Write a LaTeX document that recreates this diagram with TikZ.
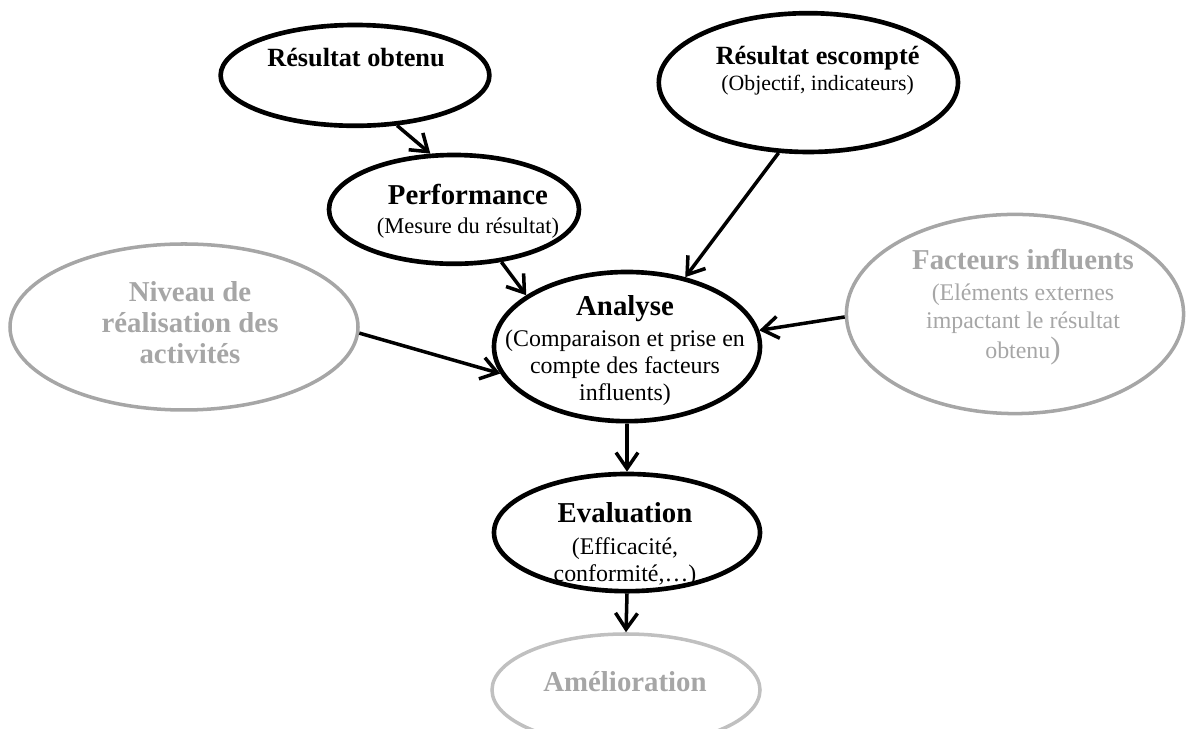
\documentclass[tikz,border=0pt]{standalone}
\usepackage{fontspec}
\setmainfont{Liberation Serif}
\usetikzlibrary{shapes.geometric,arrows.meta}
\definecolor{grayA}{HTML}{A6A6A6}
\definecolor{grayB}{HTML}{C0C0C0}
\newcommand{\hd}[1]{{\fontsize{20.5}{24}\selectfont\bfseries #1}}
\newcommand{\hdr}[1]{{\fontsize{18.7}{22}\selectfont\bfseries #1}}
\begin{document}
\begin{tikzpicture}[
		bubble/.style={draw, ellipse, line width=3.3pt, inner sep=0pt},
		pale/.style={draw=grayA, line width=2.5pt},
		txt/.style={align=center, inner sep=0pt, font=\fontsize{17}{19.5}\selectfont},
		small/.style={font=\fontsize{15.5}{18.5}\selectfont},
		link/.style={line width=2.5pt, -{Straight Barb[length=0.4cm,width=0.55cm]}}
	]
		\clip (0,0) rectangle (29.65,18.225);

		\node[bubble, minimum width=6.72cm, minimum height=2.52cm] (obtenu) at (8.875,16.34) {};
		\node[bubble, minimum width=7.48cm, minimum height=3.47cm] (escompte) at (20.21,16.16) {};
		\node[bubble, minimum width=6.25cm, minimum height=2.72cm] (perf) at (11.35,12.99) {};
		\node[bubble, pale, minimum width=8.7cm, minimum height=4.15cm] (niveau) at (4.6,10.05) {};
		\node[bubble, pale, minimum width=8.43cm, minimum height=4.98cm] (facteurs) at (25.375,10.375) {};
		\node[bubble, minimum width=6.65cm, minimum height=3.73cm] (analyse) at (15.675,9.56) {};
		\node[bubble, minimum width=6.65cm, minimum height=2.93cm] (evaluation) at (15.675,4.91) {};
		\node[bubble, draw=grayB, line width=2.5pt, minimum width=6.7cm, minimum height=2.8cm] (amelioration) at (15.65,0.975) {};

		\node[txt] (obtenuT) at (8.9,16.775) {\hdr{Résultat obtenu}};
		\node[txt, small] (escompteT) at (20.44,16.45) {\hdr{Résultat escompté}\\ (Objectif, indicateurs)};
		\node[txt, font=\fontsize{16}{18.5}\selectfont] (perfT) at (11.7,12.95) {\hd{Performance}\\[2pt] (Mesure du résultat)};
		\node[txt, text=grayA, font=\fontsize{20.5}{22}\selectfont\bfseries] (niveauT) at (4.75,10.16) {Niveau de\\ réalisation des\\ activités};
		\node[txt, text=grayA] (facteursT) at (25.575,10.55) {\hd{Facteurs influents}\\[3pt] (Eléments externes\\ impactant le résultat\\[2pt] obtenu{\fontsize{22}{24}\selectfont)}};
		\node[txt] (analyseT) at (15.625,9.45) {\hd{Analyse}\\[2pt] (Comparaison et prise en\\ compte des facteurs\\ influents)};
		\node[txt] (evaluationT) at (15.625,4.6) {\hd{Evaluation}\\[3pt] (Efficacité,\\ conformité,…)};
		\node[txt, text=grayA] (ameliorationT) at (15.625,1.175) {\hd{Amélioration}};

		\draw[link] (obtenu.-50) -- (perf.113);
		\draw[link] (perf.-48) -- (analyse.153);
		\draw[link] (escompte.247) -- (analyse.50);
		\draw[link] (niveau.-2) -- (analyse.192);
		\draw[link] (facteurs.181) -- (analyse.7);
		\draw[link] (analyse.south) -- (evaluation.north);
		\draw[link] (evaluation.south) -- (amelioration.north);
	\end{tikzpicture}
\end{document}
